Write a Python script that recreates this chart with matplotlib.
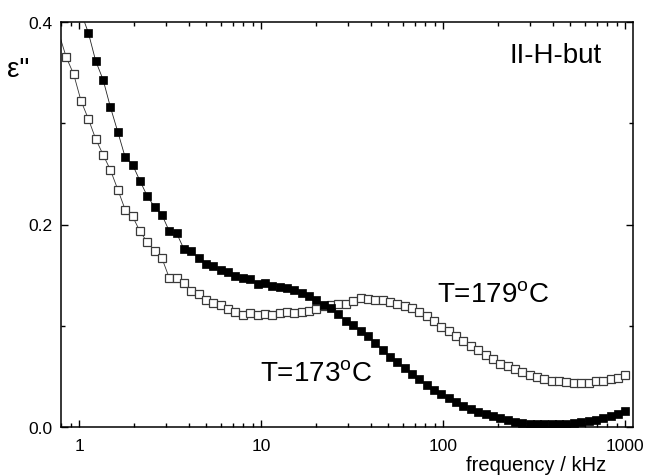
import matplotlib
matplotlib.use("Agg")
import matplotlib.pyplot as plt
from matplotlib.ticker import FixedLocator, NullFormatter

plt.rcParams['font.family'] = ['Liberation Sans', 'DejaVu Sans']
plt.rcParams['mathtext.fontset'] = 'custom'
plt.rcParams['mathtext.rm'] = 'Liberation Sans'

# frequencies in kHz (same grid for both runs)
freq = [0.851, 0.935, 1.026, 1.126, 1.235, 1.356, 1.488, 1.634, 1.793, 1.968,
        2.160, 2.370, 2.601, 2.855, 3.133, 3.439, 3.775, 4.143, 4.546, 4.989,
        5.476, 6.010, 6.596, 7.239, 7.943, 8.719, 9.570, 10.50, 11.53, 12.65,
        13.88, 15.24, 16.73, 18.35, 20.14, 22.11, 24.27, 26.64, 29.23, 32.08,
        35.21, 38.64, 42.41, 46.54, 51.08, 56.07, 61.53, 67.53, 74.12, 81.35,
        89.28, 97.97, 107.5, 118.0, 129.5, 142.2, 156.0, 171.2, 187.9, 206.3,
        226.4, 248.5, 272.7, 299.2, 328.5, 360.5, 395.7, 434.2, 476.6, 523.0,
        574.1, 630.1, 691.5, 758.9, 832.9, 914.1, 1000.0]

# T = 179 C (open squares)
eps_179 = [0.3649, 0.3481, 0.3218, 0.3040, 0.2843, 0.2688, 0.2537, 0.2343, 0.2146, 0.2081,
           0.1933, 0.1827, 0.1742, 0.1667, 0.1472, 0.1472, 0.1423, 0.1347, 0.1315, 0.1258,
           0.1226, 0.1209, 0.1167, 0.1140, 0.1105, 0.1130, 0.1107, 0.1120, 0.1110, 0.1127,
           0.1134, 0.1124, 0.1140, 0.1150, 0.1167, 0.1193, 0.1206, 0.1213, 0.1219, 0.1246,
           0.1280, 0.1265, 0.1258, 0.1252, 0.1239, 0.1219, 0.1199, 0.1174, 0.1134, 0.1101,
           0.1051, 0.0986, 0.0953, 0.0897, 0.0854, 0.0805, 0.0762, 0.0713, 0.0674, 0.0629,
           0.0602, 0.0572, 0.0542, 0.0516, 0.0499, 0.0476, 0.0460, 0.0454, 0.0444, 0.0440,
           0.0440, 0.0440, 0.0454, 0.0460, 0.0476, 0.0489, 0.0513]

# T = 173 C (filled squares), starts at the 3rd frequency
eps_173 = [0.4090, 0.3889, 0.3612, 0.3428, 0.3156, 0.2912, 0.2663, 0.2590, 0.2432, 0.2281,
           0.2173, 0.2094, 0.1934, 0.1914, 0.1755, 0.1736, 0.1667, 0.1613, 0.1588, 0.1554,
           0.1529, 0.1492, 0.1475, 0.1460, 0.1416, 0.1423, 0.1396, 0.1384, 0.1371, 0.1354,
           0.1322, 0.1292, 0.1258, 0.1206, 0.1174, 0.1117, 0.1051, 0.1006, 0.0953, 0.0900,
           0.0831, 0.0765, 0.0696, 0.0647, 0.0582, 0.0526, 0.0476, 0.0417, 0.0371, 0.0328,
           0.0289, 0.0252, 0.0213, 0.0180, 0.0154, 0.0131, 0.0114, 0.0092, 0.0072, 0.0055,
           0.0042, 0.0036, 0.0033, 0.0030, 0.0030, 0.0033, 0.0036, 0.0042, 0.0049, 0.0062,
           0.0075, 0.0089, 0.0108, 0.0134, 0.0164]
freq_173 = freq[2:]

# point just left of the axis for the open run (only its line shows)
freq_179 = [0.77] + freq
eps_179 = [0.39] + eps_179

xticks = [1, 10, 100, 1000]
xtick_labels = ['1', '10', '100', '1000']
yticks = [0.0, 0.2, 0.4]
ytick_labels = ['0.0', '0.2', '0.4']

W, H = 647, 477
fig = plt.figure(figsize=(W / 100, H / 100), dpi=100)
ax = fig.add_axes([61 / W, 1 - 428.3 / H, (632.7 - 61) / W, (428.3 - 22.7) / H])

ax.plot(freq_179, eps_179, '-', color='#333333', lw=0.6, marker='s', ms=5.2,
        mfc='white', mec='#3a3a3a', mew=0.9, markevery=slice(1, None), zorder=2)
ax.plot(freq_173, eps_173, '-', color='#222222', lw=0.6, marker='s', ms=5.2,
        mfc='black', mec='black', mew=0.5, markevery=slice(1, None), zorder=3)

ax.set_xscale('log')
ax.set_xlim(0.796, 1102)
ax.set_ylim(0, 0.4)

ax.set_xticks(xticks)
ax.set_xticklabels(xtick_labels)
ax.xaxis.set_minor_locator(FixedLocator([m * d for d in [0.1, 1, 10, 100]
                                         for m in range(2, 10)]))
ax.xaxis.set_minor_formatter(NullFormatter())
ax.set_yticks(yticks)
ax.set_yticklabels(ytick_labels)
ax.yaxis.set_minor_locator(FixedLocator([0.1, 0.3]))

ax.tick_params(which='both', direction='in', top=True, right=True, labelsize=12.5)
ax.tick_params(which='major', length=5, width=1.0)
ax.tick_params(axis='x', which='major', pad=8)
ax.tick_params(axis='y', which='major', pad=6)
ax.tick_params(which='minor', length=3, width=1.0)
for s in ax.spines.values():
    s.set_linewidth(1.1)

fig.text(7 / W, 1 - 77 / H, 'ε"', fontsize=20, ha='left', va='baseline')
fig.text(606 / W, 1 - 465.5 / H, 'frequency / kHz', fontsize=14.5, ha='right', va='center')
fig.text(510 / W, 1 - 63.3 / H, 'II-H-but', fontsize=20, ha='left', va='baseline')
fig.text(436.7 / W, 1 - 303 / H, r'T=179$^{\mathrm{o}}$C', fontsize=20, ha='left', va='baseline')
fig.text(260.5 / W, 1 - 381.7 / H, r'T=173$^{\mathrm{o}}$C', fontsize=20, ha='left', va='baseline')

fig.savefig('out.png', dpi=100)
